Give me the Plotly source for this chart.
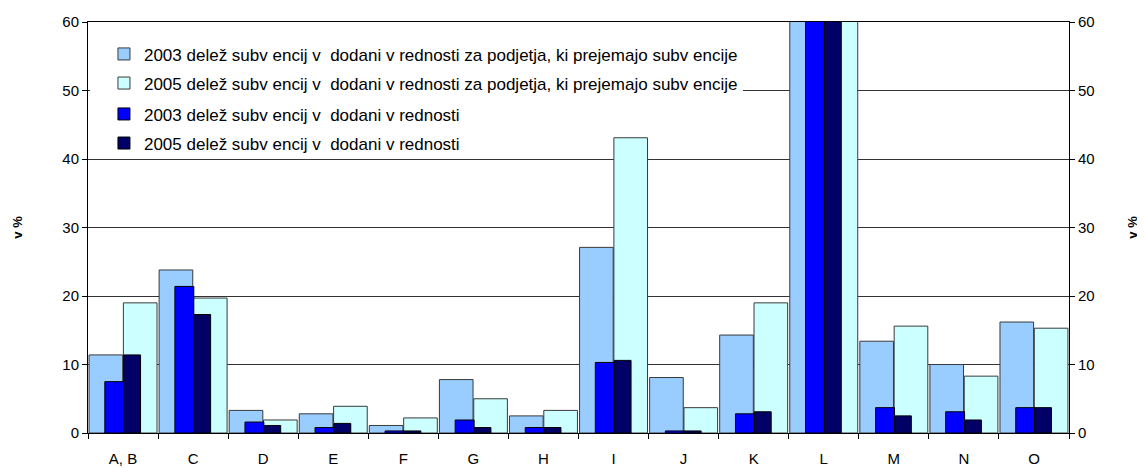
import plotly.graph_objs as go

categories = ['A, B', 'C', 'D', 'E', 'F', 'G', 'H', 'I', 'J', 'K', 'L', 'M', 'N', 'O']

# share of subsidies in value added, firms receiving subsidies (wide bars)
firms_2003 = [11.4, 23.8, 3.3, 2.8, 1.1, 7.8, 2.5, 27.1, 8.1, 14.3, 95.0, 13.4, 10.0, 16.2]
firms_2005 = [19.0, 19.7, 1.9, 3.9, 2.2, 5.0, 3.3, 43.1, 3.7, 19.0, 90.0, 15.6, 8.3, 15.3]
# share of subsidies in total value added (narrow bars)
total_2003 = [7.5, 21.4, 1.6, 0.8, 0.3, 1.9, 0.8, 10.3, 0.3, 2.8, 80.0, 3.7, 3.1, 3.7]
total_2005 = [11.4, 17.3, 1.1, 1.4, 0.3, 0.8, 0.8, 10.6, 0.3, 3.1, 75.0, 2.5, 1.9, 3.7]

names = [
    '2003 delež subv encij v  dodani v rednosti za podjetja, ki prejemajo subv encije',
    '2005 delež subv encij v  dodani v rednosti za podjetja, ki prejemajo subv encije',
    '2003 delež subv encij v  dodani v rednosti',
    '2005 delež subv encij v  dodani v rednosti',
]

FONT = 'Liberation Sans, Arial, sans-serif'
outline = dict(color='#3a3a3a', width=1)

fig = go.Figure()
fig.add_trace(go.Bar(x=categories, y=firms_2003, name=names[0], marker_color='#99CCFF',
                     marker_line=outline, width=0.48, offset=-0.485, legendgroup='a'))
fig.add_trace(go.Bar(x=categories, y=firms_2005, name=names[1], marker_color='#CCFFFF',
                     marker_line=outline, width=0.48, offset=0.005, legendgroup='b'))
fig.add_trace(go.Bar(x=categories, y=total_2003, name=names[2], marker_color='#0000FF',
                     marker_line=dict(color='#000000', width=1), width=0.27, offset=-0.26,
                     yaxis='y2', legendgroup='c', legend='legend2'))
fig.add_trace(go.Bar(x=categories, y=total_2005, name=names[3], marker_color='#000066',
                     marker_line=dict(color='#000000', width=1), width=0.24, offset=0.01,
                     yaxis='y2', legendgroup='d', legend='legend2'))


def y_axis(standoff):
    return dict(range=[0, 60], tickvals=[0, 10, 20, 30, 40, 50, 60], ticks='outside', ticklen=5,
                tickcolor='#000000', showline=True, linecolor='#000000', linewidth=1,
                tickfont=dict(size=15, color='#000000'), zeroline=False, automargin=False,
                title=dict(text='<b>v %</b>', font=dict(size=13, color='#000000'), standoff=standoff))


legend_style = dict(xanchor='left', yanchor='top', font=dict(size=17), tracegroupgap=4,
                    traceorder='grouped', indentation=14)

# page body adds an 8px offset, margins below are compensated for it
fig.update_layout(
    width=1145, height=468,
    barmode='overlay',
    plot_bgcolor='#FFFFFF', paper_bgcolor='#FFFFFF',
    font=dict(family=FONT, size=15, color='#000000'),
    margin=dict(l=80, r=84, t=14, b=43),
    xaxis=dict(tickson='boundaries', ticks='outside', ticklen=5, tickcolor='#000000',
               showline=True, linecolor='#000000', linewidth=1, mirror=True, automargin=False,
               tickfont=dict(size=15), ticklabelstandoff=12, range=[-0.5, 13.5]),
    yaxis=dict(**y_axis(36), showgrid=True, gridcolor='#333333', gridwidth=1),
    yaxis2=dict(**y_axis(34), overlaying='y', side='right', showgrid=False),
    # first two entries sit on a white box that hides the 50 gridline
    legend=dict(**legend_style, x=0.002, y=0.965, bgcolor='#FFFFFF'),
    legend2=dict(**legend_style, x=0.002, y=0.819, bgcolor='rgba(0,0,0,0)'),
    showlegend=True,
)

fig.write_html("out.html")
